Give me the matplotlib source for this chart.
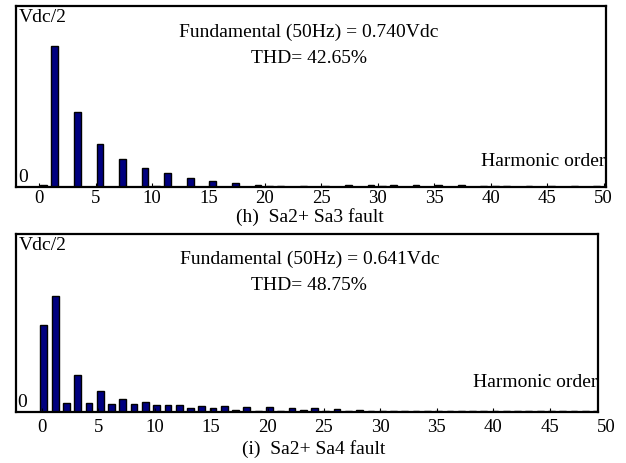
import numpy as np
import matplotlib
matplotlib.use('Agg')
import matplotlib.pyplot as plt

plt.rcParams['font.family'] = ['Liberation Serif', 'DejaVu Serif']

# harmonic orders 0..50, amplitudes in units of the panel height (Vdc/2 at top)
orders = np.arange(0, 51)

amp_h = [0.010, 0.780, 0.002, 0.416, 0.002, 0.236, 0.002, 0.155, 0.002, 0.105,
         0.003, 0.076, 0.002, 0.050, 0.002, 0.035, 0.002, 0.020, 0.002, 0.011,
         0.003, 0.006, 0.002, 0.004, 0.002, 0.008, 0.002, 0.010, 0.002, 0.012,
         0.008, 0.012, 0.002, 0.010, 0.002, 0.010, 0.002, 0.009, 0.002, 0.008,
         0.003, 0.006, 0.002, 0.007, 0.002, 0.006, 0.002, 0.004, 0.002, 0.004,
         0.002]

amp_i = [0.490, 0.653, 0.050, 0.210, 0.050, 0.118, 0.043, 0.073, 0.043, 0.054,
         0.040, 0.038, 0.038, 0.025, 0.035, 0.020, 0.033, 0.012, 0.030, 0.008,
         0.030, 0.005, 0.025, 0.010, 0.020, 0.008, 0.015, 0.008, 0.012, 0.008,
         0.008, 0.006, 0.006, 0.006, 0.006, 0.005, 0.005, 0.005, 0.005, 0.005,
         0.005, 0.005, 0.005, 0.005, 0.005, 0.004, 0.004, 0.004, 0.004, 0.004,
         0.004]

fund_text = ['Fundamental (50Hz) = 0.740Vdc', 'Fundamental (50Hz) = 0.641Vdc']
thd_text = ['THD= 42.65%', 'THD= 48.75%']
captions = ['(h)  Sa2+ Sa3 fault', '(i)  Sa2+ Sa4 fault']
tick_vals = list(range(0, 51, 5))

W, H = 626, 464
fig = plt.figure(figsize=(W / 100, H / 100), dpi=100)

# pixel boxes: left, top, right, bottom
boxes = [(16, 7, 606, 188), (16, 235, 598, 413)]
xlims = [(-2.05, 50.2), (-2.3, 49.3)]
shifts = [0.38, 0.17]
series = [amp_h, amp_i]
# text placement per panel (axes fractions)
fund_xy = [(0.497, 0.862), (0.504, 0.865)]
thd_y = [0.718, 0.719]
harm_y = [0.144, 0.169]
cap_xy = [(0.498, -0.162), (0.512, -0.2)]
tick_pad = [1.2, 4]

fs = 14
tfs = 13.5
for k in range(2):
    l, t, r, b = boxes[k]
    ax = fig.add_axes([l / W, 1 - b / H, (r - l) / W, (b - t) / H])
    ax.bar(orders + shifts[k], series[k], width=0.6, color='#000080',
           edgecolor='black', linewidth=1.0)
    ax.set_xlim(*xlims[k])
    ax.set_ylim(0, 1)
    ax.set_yticks([])
    ticks = [v for v in tick_vals if v <= xlims[k][1]]
    ax.set_xticks(ticks)
    ax.set_xticklabels([str(v) for v in ticks], fontsize=tfs)
    ax.tick_params(axis='x', direction='in', length=3, width=0.8,
                   pad=tick_pad[k])
    for s in ax.spines.values():
        s.set_linewidth(1.6)
    if tick_vals[-1] > xlims[k][1]:
        ax.annotate(str(tick_vals[-1]), xy=(tick_vals[-1], 0),
                    xycoords=ax.get_xaxis_transform(),
                    xytext=(0, -tick_pad[k]), textcoords='offset points',
                    fontsize=tfs, ha='center', va='top', annotation_clip=False)

    ax.text(0.005, 0.99, 'Vdc/2', transform=ax.transAxes, fontsize=fs,
            ha='left', va='top')
    ax.text(0.003, 0.01, '0', transform=ax.transAxes, fontsize=fs,
            ha='left', va='bottom')
    ax.text(fund_xy[k][0], fund_xy[k][1], fund_text[k], transform=ax.transAxes,
            fontsize=fs, ha='center', va='center')
    ax.text(fund_xy[k][0], thd_y[k], thd_text[k], transform=ax.transAxes,
            fontsize=fs, ha='center', va='center')
    ax.text(0.999, harm_y[k], 'Harmonic order', transform=ax.transAxes,
            fontsize=fs, ha='right', va='center')
    ax.text(cap_xy[k][0], cap_xy[k][1], captions[k], transform=ax.transAxes,
            fontsize=fs, ha='center', va='center')

fig.savefig('out.png', dpi=100)
